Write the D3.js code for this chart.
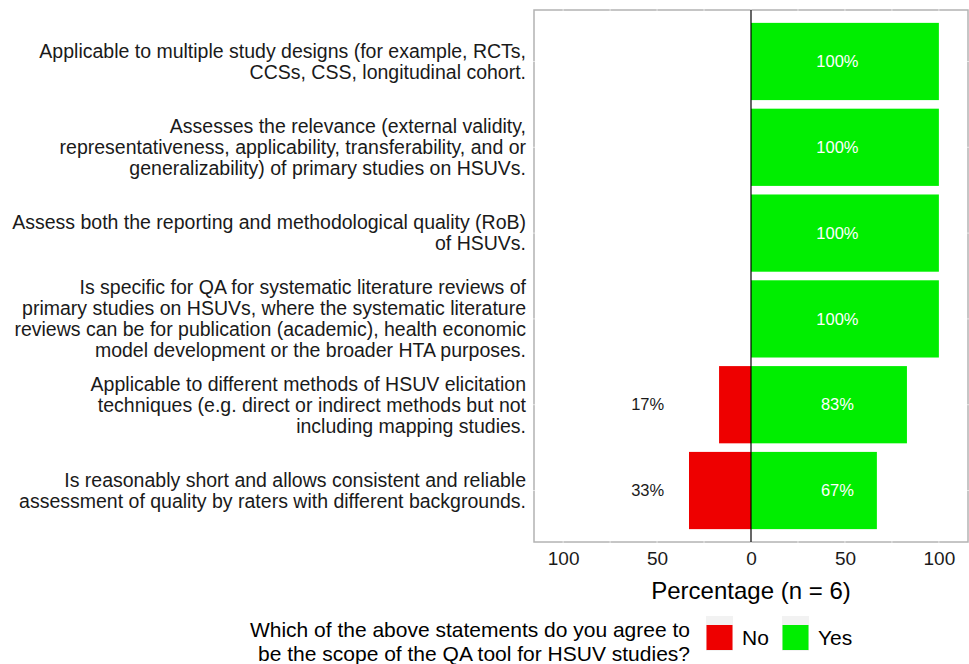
<!DOCTYPE html>
<html lang="en">
<head>
<meta charset="utf-8" />
<title>Scope of the QA tool for HSUV studies</title>
<script src="https://d3js.org/d3.v7.min.js"></script>
<style>
  body { margin: 0; background: white; }
  svg text { font-family: "Liberation Sans", Arial, sans-serif; }
</style>
</head>
<body>
<div id="chart"></div>
<script>
// statements (one array of lines per row, top to bottom)
var statements = [
  ["Applicable to multiple study designs (for example, RCTs,", "CCSs, CSS, longitudinal cohort."],
  ["Assesses the relevance (external validity,", "representativeness, applicability, transferability, and or", "generalizability) of primary studies on HSUVs."],
  ["Assess both the reporting and methodological quality (RoB)", "of HSUVs."],
  ["Is specific for QA for systematic literature reviews of", "primary studies on HSUVs, where the systematic literature", "reviews can be for publication (academic), health economic", "model development or the broader HTA purposes."],
  ["Applicable to different methods of HSUV elicitation", "techniques (e.g. direct or indirect methods but not", "including mapping studies."],
  ["Is reasonably short and allows consistent and reliable", "assessment of quality by raters with different backgrounds."]
];
var yesPct = [100, 100, 100, 100, 83, 67];
var noPct = [0, 0, 0, 0, 17, 33];
var xTicks = [-100, -50, 0, 50, 100];
var legendTitle = ["Which of the above statements do you agree to", "be the scope of the QA tool for HSUV studies?"];
var legendKeys = ["No", "Yes"];

var width = 969, height = 664;
var panel = {left: 534, right: 968, top: 10, bottom: 542};
var green = "#00EE00", red = "#EE0000";

var svg = d3.select("#chart").append("svg")
  .attr("width", width)
  .attr("height", height);

var x = d3.scaleLinear()
  .domain([-115.5, 115.5])
  .range([panel.left, panel.right]);

// ggplot-style discrete scale: 0.6 units of padding on each side
var rows = d3.range(statements.length);
var y = d3.scalePoint()
  .domain(rows)
  .range([panel.top, panel.bottom])
  .padding(0.6);
var barH = y.step() * 0.9;

// panel border
svg.append("rect")
  .attr("x", panel.left)
  .attr("y", panel.top)
  .attr("width", panel.right - panel.left)
  .attr("height", panel.bottom - panel.top)
  .attr("fill", "white")
  .attr("stroke", "#b3b3b3")
  .attr("stroke-width", 1.5);

// faint white grid lines (show only where they cross the border)
var gridX = d3.range(-100, 101, 25);
svg.append("g").selectAll("line")
  .data(gridX)
  .join("line")
    .attr("x1", d => x(d)).attr("x2", d => x(d))
    .attr("y1", panel.top - 1).attr("y2", panel.bottom + 1)
    .attr("stroke", "white")
    .attr("stroke-opacity", 0.6)
    .attr("stroke-width", 1);
svg.append("g").selectAll("line")
  .data(rows)
  .join("line")
    .attr("x1", panel.left - 1).attr("x2", panel.right + 1)
    .attr("y1", d => y(d)).attr("y2", d => y(d))
    .attr("stroke", "white")
    .attr("stroke-opacity", 0.6)
    .attr("stroke-width", 1);

// Yes bars
svg.append("g").selectAll("rect")
  .data(rows)
  .join("rect")
    .attr("x", x(0))
    .attr("y", i => y(i) - barH / 2)
    .attr("width", i => x(yesPct[i]) - x(0))
    .attr("height", barH)
    .attr("fill", green);

// No bars (to the left of zero)
svg.append("g").selectAll("rect")
  .data(rows.filter(i => noPct[i] > 0))
  .join("rect")
    .attr("x", i => x(-noPct[i]))
    .attr("y", i => y(i) - barH / 2)
    .attr("width", i => x(0) - x(-noPct[i]))
    .attr("height", barH)
    .attr("fill", red);

// zero line
svg.append("line")
  .attr("x1", x(0)).attr("x2", x(0))
  .attr("y1", panel.top).attr("y2", panel.bottom)
  .attr("stroke", "black")
  .attr("stroke-width", 1.2);

// percentage labels
svg.append("g").selectAll("text")
  .data(rows)
  .join("text")
    .attr("x", x(46))
    .attr("y", i => y(i))
    .attr("dy", "0.35em")
    .attr("text-anchor", "middle")
    .attr("fill", "white")
    .style("font-size", "16.5px")
    .text(i => yesPct[i] + "%");

svg.append("g").selectAll("text")
  .data(rows.filter(i => noPct[i] > 0))
  .join("text")
    .attr("x", x(-55))
    .attr("y", i => y(i))
    .attr("dy", "0.35em")
    .attr("text-anchor", "middle")
    .attr("fill", "#1a1a1a")
    .style("font-size", "16.5px")
    .text(i => noPct[i] + "%");

// category labels
var lineH = 21;
var cat = svg.append("g").selectAll("text")
  .data(rows)
  .join("text")
    .attr("text-anchor", "end")
    .attr("fill", "#1a1a1a")
    .style("font-size", "19.5px");
cat.each(function(i) {
  var lines = statements[i];
  var t0 = y(i) - (lines.length - 1) * lineH / 2;
  d3.select(this).selectAll("tspan")
    .data(lines)
    .join("tspan")
      .attr("x", 526)
      .attr("y", (d, k) => t0 + k * lineH)
      .attr("dy", "0.35em")
      .text(d => d);
});

// x axis
var xAxis = d3.axisBottom(x)
  .tickValues(xTicks)
  .tickSize(0)
  .tickPadding(9.5)
  .tickFormat(d => Math.abs(d));
var gx = svg.append("g")
  .attr("transform", "translate(0," + panel.bottom + ")")
  .call(xAxis);
gx.select(".domain").remove();
gx.selectAll("text")
  .attr("fill", "#1a1a1a")
  .style("font-size", "19px")
  .style("font-family", "Liberation Sans, Arial, sans-serif");

svg.append("text")
  .attr("x", x(0))
  .attr("y", 599)
  .attr("text-anchor", "middle")
  .attr("fill", "black")
  .style("font-size", "24px")
  .text("Percentage (n = 6)");

// legend
svg.append("g").selectAll("text")
  .data(legendTitle)
  .join("text")
    .attr("x", 690)
    .attr("y", (d, k) => 637 + k * 23.5)
    .attr("text-anchor", "end")
    .attr("fill", "black")
    .style("font-size", "21px")
    .text(d => d);

var keyX = [706, 782];
var keyColor = [red, green];
var keys = svg.append("g").selectAll("g")
  .data(legendKeys)
  .join("g")
    .attr("transform", (d, k) => "translate(" + keyX[k] + ",616)");
keys.append("rect")
  .attr("x", 0).attr("y", 0)
  .attr("width", 27).attr("height", 35)
  .attr("fill", "#f2f2f2");
keys.append("rect")
  .attr("x", 0.5).attr("y", 9)
  .attr("width", 26).attr("height", 25)
  .attr("fill", (d, k) => keyColor[k]);
keys.append("text")
  .attr("x", 36)
  .attr("y", 22)
  .attr("dy", "0.35em")
  .attr("fill", "black")
  .style("font-size", "21px")
  .text(d => d);
</script>
</body>
</html>
